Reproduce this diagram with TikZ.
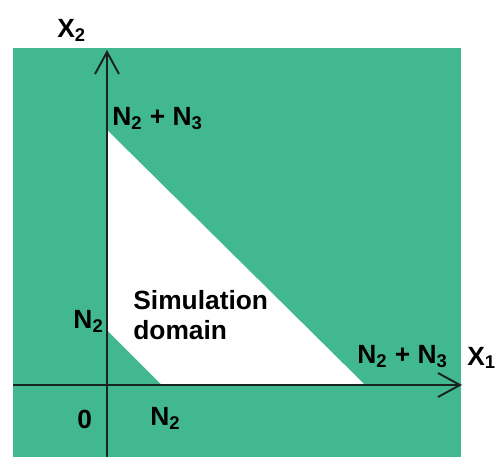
\documentclass[tikz,border=0pt]{standalone}
\usepackage{fontspec}
\setmainfont{Liberation Sans}
\usetikzlibrary{arrows.meta}
\definecolor{domgreen}{RGB}{66,184,145}
\definecolor{axisdark}{RGB}{25,35,32}

\begin{document}
\begin{tikzpicture}[x=0.02cm,y=-0.02cm,
  font=\fontsize{15}{17}\selectfont\bfseries,
  lbl/.style={inner sep=0pt,text=black},
  axis/.style={-{Straight Barb[length=0.44cm,width=0.48cm]},draw=axisdark,line width=1.1pt}]

\path[use as bounding box] (0,0) rectangle (497,457);
% background and simulation domain
\fill[domgreen] (13,48) rectangle (461,457);
\fill[white] (107,130) -- (365,385) -- (162,385) -- (107,330) -- cycle;

\coordinate (O) at (107,385);
\coordinate (x1from) at (13,385);
\coordinate (x1tip) at (462,385);
\coordinate (x2from) at (107,457);
\coordinate (x2tip) at (107,50);
\draw[axis] (x1from) -- (x1tip);
\draw[axis] (x2from) -- (x2tip);

\node[lbl,anchor=base west] (x2lab) at (57,37) {X\textsubscript{2}};
\node[lbl,anchor=base west] (x1lab) at (467,365) {X\textsubscript{1}};
\node[lbl,anchor=base west] (topsum) at (112,125) {N\textsubscript{2} + N\textsubscript{3}};
\node[lbl,anchor=base west] (rightsum) at (357,363) {N\textsubscript{2} + N\textsubscript{3}};
\node[lbl,anchor=base east] (leftn) at (104,328) {N\textsubscript{2}};
\node[lbl,anchor=base west] (bottomn) at (150,425) {N\textsubscript{2}};
\node[lbl,anchor=base west] (zero) at (77,428) {0};
\node[lbl,anchor=north west,align=left,font=\fontsize{15}{17}\selectfont\bfseries] (simdom) at (133,290)
  {Simulation\\domain};

\end{tikzpicture}
\end{document}
